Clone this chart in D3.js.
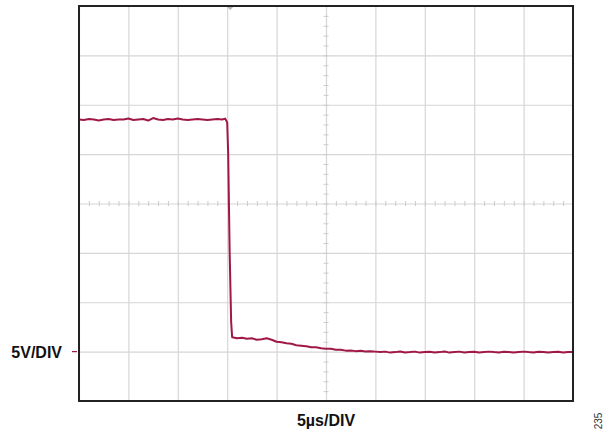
<!DOCTYPE html>
<html>
<head>
<meta charset="utf-8">
<script src="https://cdn.jsdelivr.net/npm/d3@7"></script>
<style>
  body { margin: 0; background: #fff; }
  svg { display: block; font-family: "Liberation Sans", Arial, sans-serif; }
</style>
</head>
<body>
<div id="chart-area"></div>
<script>
// Data: scope trace, time in µs, voltage in V (5V/DIV, 5µs/DIV)
const highTimes = [0,0.5,1,1.5,2,2.5,3,3.5,4,4.5,5,5.5,6,6.5,7,7.5,8,8.5,9,9.5,10,10.5,11,11.5,12,12.5,13,13.5,14,14.5];
const highVolts = [23.5,23.45,23.55,23.5,23.4,23.5,23.55,23.45,23.5,23.5,23.6,23.45,23.5,23.55,23.4,23.65,23.5,23.45,23.55,23.5,23.6,23.5,23.45,23.5,23.55,23.5,23.45,23.5,23.55,23.5];
const edgeTimes = [14.8,15.0,15.1,15.25,15.4,15.5];
const edgeVolts = [23.6,23.2,20,10,3,1.45];
const tailTimes = [16,16.5,17,17.5,18,18.5,19,19.5,20,20.5,21,21.5,22,22.5,23,23.5,24,24.5,25,25.5,26,26.5,27,27.5,28,28.5,29,29.5,30];
const tailVolts = [1.35,1.4,1.3,1.35,1.2,1.25,1.35,1.2,1.0,0.95,0.85,0.8,0.65,0.6,0.55,0.45,0.45,0.35,0.3,0.3,0.2,0.2,0.1,0.12,0.05,0.08,0.02,0.05,0];
const flatTimes = [30.5,31,31.5,32,32.5,33,33.5,34,34.5,35,35.5,36,36.5,37,37.5,38,38.5,39,39.5,40,40.5,41,41.5,42,42.5,43,43.5,44,44.5,45,45.5,46,46.5,47,47.5,48,48.5,49,49.5,50];
const flatVolts = [-0.05,0,-0.1,-0.05,0.02,-0.08,-0.05,0,-0.1,-0.05,-0.02,-0.08,-0.05,0.02,-0.1,-0.05,0,-0.08,-0.05,-0.02,-0.1,-0.05,0,-0.05,-0.08,-0.02,-0.05,-0.1,-0.05,0,-0.05,-0.08,-0.02,-0.05,-0.1,-0.05,-0.02,-0.08,-0.05,-0.05];

const xTicks = d3.range(0, 51, 5);     // 10 divisions
const yTicks = d3.range(-5, 36, 5);    // 8 divisions
const xMinor = d3.range(0, 50.01, 1);
const yMinor = d3.range(-5, 35.01, 1);

const trace = [];
[[highTimes, highVolts], [edgeTimes, edgeVolts], [tailTimes, tailVolts], [flatTimes, flatVolts]]
  .forEach(([ts, vs]) => ts.forEach((t, i) => trace.push({t: t, v: vs[i]})));

// SVG setup
const width = 608, height = 436;
const margin = {left: 79, right: 35, top: 6, bottom: 35};
const w = width - margin.left - margin.right;
const h = height - margin.top - margin.bottom;

const svg = d3.select("#chart-area").append("svg")
  .attr("width", width)
  .attr("height", height);

const g = svg.append("g")
  .attr("transform", "translate(" + margin.left + "," + margin.top + ")");

// Scales
const x = d3.scaleLinear().domain([0, 50]).range([0, w]);
const y = d3.scaleLinear().domain([-5, 35]).range([h, 0]);

// Grid
g.append("g")
  .attr("class", "x grid")
  .attr("transform", "translate(0," + h + ")")
  .call(d3.axisBottom(x).tickValues(xTicks).tickSize(-h).tickFormat(""))
  .call(a => a.select(".domain").remove());

g.append("g")
  .attr("class", "y grid")
  .call(d3.axisLeft(y).tickValues(yTicks).tickSize(-w).tickFormat(""))
  .call(a => a.select(".domain").remove());

g.selectAll(".grid line")
  .attr("stroke", "#d6d6d6")
  .attr("stroke-width", 1.2);

// Minor ticks on the centre axes
g.append("g")
  .attr("class", "minor")
  .attr("transform", "translate(0," + (y(15) + 2.5) + ")")
  .call(d3.axisBottom(x).tickValues(xMinor).tickSize(-5).tickFormat(""))
  .call(a => a.select(".domain").remove());

g.append("g")
  .attr("class", "minor")
  .attr("transform", "translate(" + (x(25) - 2.5) + ",0)")
  .call(d3.axisRight(y).tickValues(yMinor).tickSize(5).tickFormat(""))
  .call(a => a.select(".domain").remove());

g.selectAll(".minor line")
  .attr("stroke", "#cccccc")
  .attr("stroke-width", 1);

// Trigger marker
g.append("path")
  .attr("d", "M" + (x(15.1) - 1) + ",1 h6 l-3,3 z")
  .attr("fill", "#b8b8b8");

// Trace
const line = d3.line()
  .x(d => x(d.t))
  .y(d => y(d.v));

g.append("path")
  .datum(trace)
  .attr("fill", "none")
  .attr("stroke", "#a01846")
  .attr("stroke-width", 2)
  .attr("stroke-linejoin", "round")
  .attr("d", line);

// Frame
g.append("rect")
  .attr("width", w)
  .attr("height", h)
  .attr("fill", "none")
  .attr("stroke", "#222")
  .attr("stroke-width", 2);

// Ground marker and labels
g.append("line")
  .attr("x1", -7).attr("x2", -2)
  .attr("y1", y(0)).attr("y2", y(0))
  .attr("stroke", "#a01846")
  .attr("stroke-width", 1.2);

g.append("text")
  .attr("x", -17)
  .attr("y", y(0) + 6)
  .attr("text-anchor", "end")
  .attr("font-size", "16px")
  .attr("font-weight", "bold")
  .attr("fill", "#111")
  .text("5V/DIV");

g.append("text")
  .attr("x", w / 2)
  .attr("y", h + 25)
  .attr("text-anchor", "middle")
  .attr("font-size", "16px")
  .attr("font-weight", "bold")
  .attr("fill", "#111")
  .text("5µs/DIV");

svg.append("text")
  .attr("transform", "translate(602,421) rotate(-90)")
  .attr("text-anchor", "middle")
  .attr("font-size", "10px")
  .attr("fill", "#333")
  .text("235");
</script>
</body>
</html>
